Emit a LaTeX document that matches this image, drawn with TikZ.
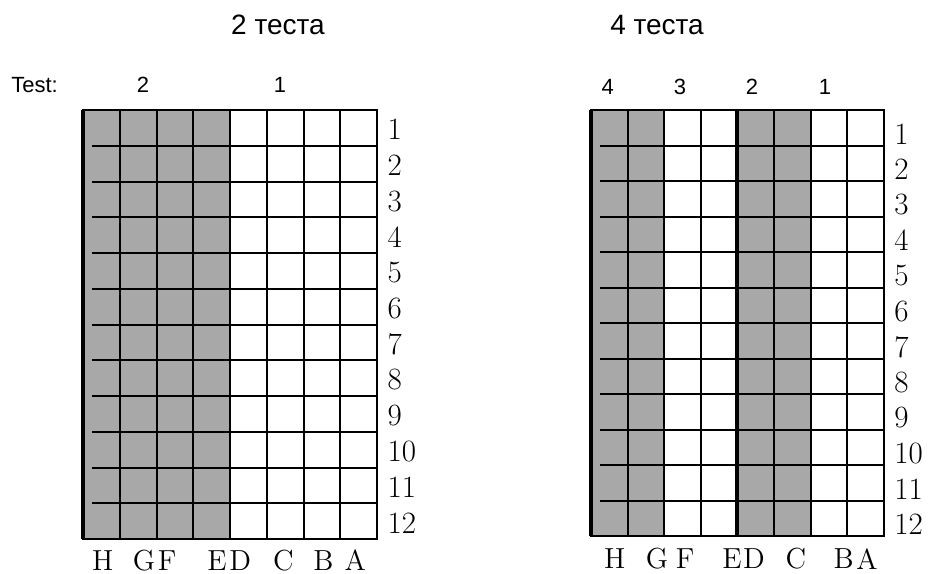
\documentclass[tikz,border=0pt]{standalone}
\usepackage{fontspec}
\newfontfamily\arialfont{Liberation Sans}
\definecolor{cellgray}{RGB}{168,168,168}
\tikzset{
  gridline/.style={black, line width=1pt},
  heavyline/.style={black, line width=2pt},
  rowlabel/.style={anchor=west, inner sep=0pt, font=\fontsize{15.5}{16}\selectfont},
  collabel/.style={inner sep=0pt, font=\fontsize{14.5}{15}\selectfont},
  testlabel/.style={inner sep=0pt, font=\arialfont\fontsize{11}{12}\selectfont},
  plantitle/.style={inner sep=0pt, font=\arialfont\fontsize{14}{16}\selectfont}
}
\begin{document}
\begin{tikzpicture}[x=0.5pt,y=-0.5pt]
  \useasboundingbox[fill=white] (0,0) rectangle (935,573);

  % Titles
  \node[plantitle] (title2) at (278,25) {2 теста};
  \node[plantitle] (title4) at (657,25) {4 теста};
  \node[testlabel] (testword) at (34.5,85) {Test:};

  % Left plate: 2 tests
  \begin{scope}[shift={(41.5pt,-55pt)}, x=18.375pt, y=-17.875pt]
    \fill[cellgray] (0,0) rectangle (4,12);
    \foreach \c in {1,...,7}
      \draw[gridline] (\c,0) -- (\c,12);
    \foreach \r in {1,...,11}
      \draw[gridline] (0.25,\r) -- (8,\r);
    \draw[gridline] (0,0) rectangle (8,12);
    \draw[heavyline] (0,0) -- (0,12);
    % rows
    \foreach \r in {1,...,12}
      \node[rowlabel] (left-row\r) at (8.28,\r-0.45) {\r};
    % columns
    \foreach \l/\p in {H/0.54, G/1.66, F/2.29, E/3.65, D/4.28, C/5.45, B/6.54, A/7.41}
      \node[collabel] (left-col\l) at (\p,12.6) {\l};
    % tests
    \node[testlabel] (left-test2) at (1.63,-0.7) {2};
    \node[testlabel] (left-test1) at (5.36,-0.7) {1};
  \end{scope}

  % Right plate: 4 tests
  \begin{scope}[shift={(295.5pt,-55pt)}, x=18.3pt, y=-17.75pt]
    \fill[cellgray] (0,0) rectangle (2,12);
    \fill[cellgray] (4,0) rectangle (6,12);
    \foreach \c in {1,...,7}
      \draw[gridline] (\c,0) -- (\c,12);
    \foreach \r in {1,...,11}
      \draw[gridline] (0.25,\r) -- (8,\r);
    \draw[gridline] (0,0) rectangle (8,12);
    \draw[heavyline] (0,0) -- (0,12);
    \draw[heavyline] (4,0) -- (4,12);
    % rows
    \foreach \r in {1,...,12}
      \node[rowlabel] (right-row\r) at (8.28,\r-0.33) {\r};
    % columns
    \foreach \l/\p in {H/0.65, G/1.8, F/2.57, E/3.85, D/4.45, C/5.6, B/6.9, A/7.54}
      \node[collabel] (right-col\l) at (\p,12.65) {\l};
    % tests
    \node[testlabel] (right-test4) at (0.46,-0.65) {4};
    \node[testlabel] (right-test3) at (2.43,-0.65) {3};
    \node[testlabel] (right-test2) at (4.4,-0.65) {2};
    \node[testlabel] (right-test1) at (6.39,-0.65) {1};
  \end{scope}
\end{tikzpicture}
\end{document}
